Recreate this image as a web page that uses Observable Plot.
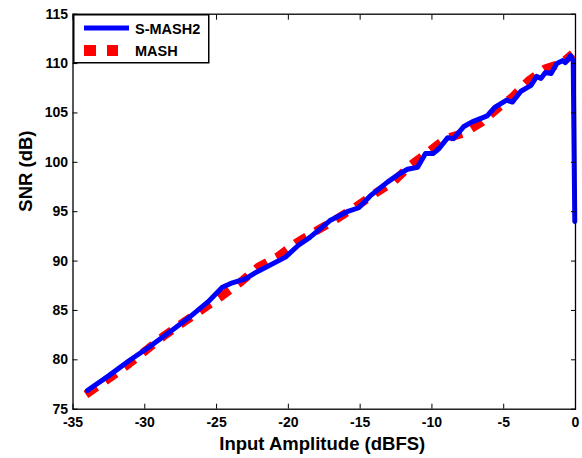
<!DOCTYPE html>
<html><head><meta charset="utf-8">
<script src="https://cdn.jsdelivr.net/npm/d3@7"></script>
<script src="https://cdn.jsdelivr.net/npm/@observablehq/plot@0.6"></script>
<style>
body{margin:0;background:#fff;}
#wrap{position:relative;width:582px;height:458px;}
#legend{position:absolute;left:73px;top:14px;}
</style></head><body><div id="wrap"></div>
<script>
const seriesNames = ["S-MASH2", "MASH"];
const seriesColors = ["#0000ff", "#ff0000"];
const xTicks = [-35, -30, -25, -20, -15, -10, -5, 0];
const yTicks = [75, 80, 85, 90, 95, 100, 105, 110, 115];

const smashX = [-34, -32.5, -31.1, -29.7, -28.1, -26.9, -25.5, -24.6, -23.9, -23.0, -22.2, -20.2, -19.3, -18.5, -17.1, -15.9, -15.1, -14.3, -13.1, -12.3, -11.7, -11.0, -10.45, -9.9, -9.5, -8.9, -8.5, -7.8, -7.2, -6.15, -5.6, -4.8, -4.4, -3.8, -3.1, -2.7, -2.4, -2.1, -1.7, -1.3, -0.9, -0.7, -0.35, -0.16, -0.05];
const smashY = [76.9, 78.4, 79.9, 81.3, 83.0, 84.3, 86.0, 87.35, 87.8, 88.2, 88.9, 90.4, 91.6, 92.4, 94.1, 95.0, 95.4, 96.6, 98.0, 98.8, 99.3, 99.5, 100.9, 100.9, 101.4, 102.5, 102.4, 103.6, 104.1, 104.7, 105.6, 106.3, 106.1, 107.2, 107.8, 108.7, 108.5, 109.1, 109.0, 110.0, 110.3, 110.1, 110.8, 110.3, 94.0];

const mashX = [-34.1, -32.4, -31.1, -29.8, -28.6, -27.3, -25.9, -24.6, -23.3, -22.1, -20.7, -19.4, -18.0, -16.6, -15.2, -13.9, -12.7, -11.5, -10.3, -9.05, -7.7, -6.5, -5.3, -4.4, -3.25, -2.1, -1.0, -0.2];
const mashY = [76.5, 78.2, 79.6, 81.1, 82.5, 83.8, 85.2, 86.5, 87.9, 89.4, 90.5, 91.9, 93.1, 94.3, 95.6, 96.9, 98.0, 99.7, 101.0, 102.4, 103.0, 104.1, 105.6, 106.6, 108.3, 109.5, 110.0, 111.0];

const smash = smashX.map((x, i) => ({x, y: smashY[i]}));
const mash = mashX.map((x, i) => ({x, y: mashY[i]}));
const FONT = '"Liberation Sans", Arial, Helvetica, sans-serif';

const plot = Plot.plot({
  width: 582, height: 458,
  marginLeft: 72.5, marginRight: 7, marginTop: 13.7, marginBottom: 49.3,
  style: {fontFamily: FONT, fontWeight: "bold", fontSize: "14px", background: "#fff", color: "#000"},
  x: {domain: [-35, 0]},
  y: {domain: [75, 115]},
  marks: [
    Plot.line(mash, {x: "x", y: "y", stroke: seriesColors[1], strokeWidth: 8.5, strokeDasharray: "13,10.5", strokeLinecap: "butt", strokeLinejoin: "miter"}),
    Plot.line(smash, {x: "x", y: "y", stroke: seriesColors[0], strokeWidth: 5, strokeLinejoin: "round"}),
    Plot.frame({stroke: "#000", strokeWidth: 1.3}),
    Plot.axisX({ticks: xTicks, tickSize: 0, tickPadding: 8, tickFormat: d => String(d), label: null}),
    Plot.axisX({ticks: xTicks, tickSize: -5, fill: "none", stroke: "#000", label: null}),
    Plot.axisX({anchor: "top", ticks: xTicks, tickSize: -5, fill: "none", stroke: "#000", label: null}),
    Plot.axisY({ticks: yTicks, tickSize: 0, tickPadding: 5, tickFormat: d => String(d), label: null}),
    Plot.axisY({ticks: yTicks, tickSize: -5, fill: "none", stroke: "#000", label: null}),
    Plot.axisY({anchor: "right", ticks: yTicks, tickSize: -5, fill: "none", stroke: "#000", label: null}),
    Plot.text(["Input Amplitude (dBFS)"], {text: d => d, frameAnchor: "bottom", dx: -2, dy: 40.5, fontSize: 18.5, fontWeight: "bold"}),
    Plot.text(["SNR (dB)"], {text: d => d, frameAnchor: "left", dx: -47, rotate: -90, fontSize: 18.5, fontWeight: "bold"})
  ]
});
const wrap = document.getElementById("wrap");
wrap.appendChild(plot);

// legend
const lg = d3.create("svg").attr("id", "legend").attr("width", 138).attr("height", 51)
  .style("font-family", FONT).style("font-weight", "bold").style("font-size", "14.5px");
lg.append("rect").attr("x", 0.75).attr("y", 0.75).attr("width", 135).attr("height", 48)
  .attr("fill", "#fff").attr("stroke", "#000").attr("stroke-width", 1.5);
lg.append("line").attr("x1", 11).attr("x2", 56).attr("y1", 14).attr("y2", 14)
  .attr("stroke", seriesColors[0]).attr("stroke-width", 5);
lg.append("line").attr("x1", 11).attr("x2", 45).attr("y1", 36.5).attr("y2", 36.5)
  .attr("stroke", seriesColors[1]).attr("stroke-width", 11).attr("stroke-dasharray", "12,11");
lg.append("text").attr("x", 62).attr("y", 20.3).text(seriesNames[0]);
lg.append("text").attr("x", 62).attr("y", 41.7).text(seriesNames[1]);
wrap.appendChild(lg.node());
</script></body></html>
